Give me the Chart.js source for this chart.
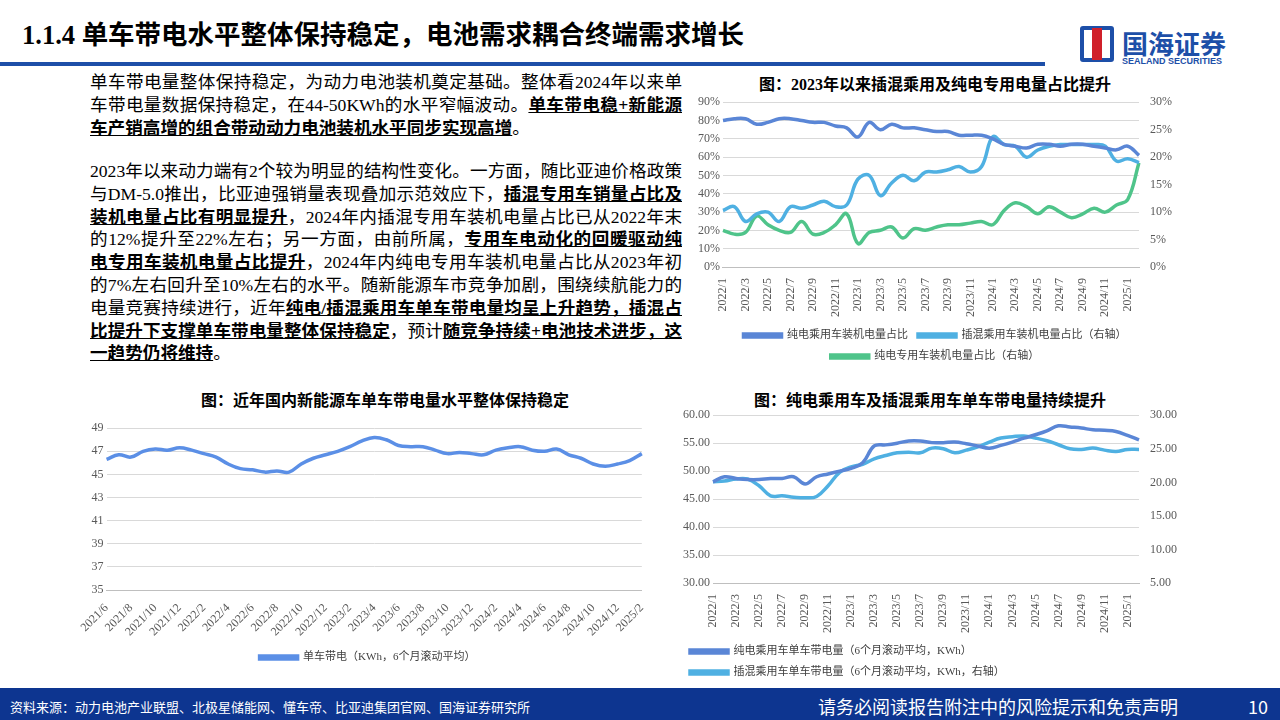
<!DOCTYPE html>
<html><head><meta charset="utf-8">
<script src="https://cdn.jsdelivr.net/npm/chart.js@4"></script>
<style>
body{margin:0;width:1280px;height:720px;position:relative;background:#fff;overflow:hidden;font-family:"Liberation Serif","Noto Sans CJK SC",serif;color:#000}
.abs{position:absolute}
#title{left:22px;top:13px;font-size:26.5px;font-weight:bold;font-family:"Liberation Serif","Noto Sans CJK SC";white-space:nowrap}
#bar{left:0;top:62px;width:1045px;height:4px;background:#1d4fa8}
#logo{left:1080px;top:24px;color:#1d4fa8}
.txt{left:90px;width:592px;font-size:17.6px;line-height:22.8px;text-align:justify}
.txt b{text-decoration:underline}
.ct{font-size:16px;font-weight:bold;text-align:center}
#foot{left:0;top:688px;width:1280px;height:32px;background:#0d3590;color:#fff}
</style></head><body>
<div id="title" class="abs">1.1.4 单车带电水平整体保持稳定，电池需求耦合终端需求增长</div>
<div id="bar" class="abs"></div>
<div id="logo" class="abs">
 <div style="position:absolute;left:0;top:2px;width:34px;height:36px;border:4px solid #1d4fa8;border-radius:3px;box-sizing:border-box"></div>
 <div style="position:absolute;left:12px;top:4px;width:10px;height:32px;background:#d0202a"></div>
 <div style="position:absolute;left:42px;top:0;font-size:26px;font-weight:bold;font-family:'Noto Sans CJK SC';white-space:nowrap">国海证券</div>
 <div style="position:absolute;left:42px;top:32px;font-size:9px;font-weight:bold;font-family:'Liberation Sans';white-space:nowrap">SEALAND SECURITIES</div>
</div>
<div class="abs txt" style="top:71px">单车带电量整体保持稳定，为动力电池装机奠定基础。整体看2024年以来单车带电量数据保持稳定，在44-50KWh的水平窄幅波动。<b>单车带电稳+新能源车产销高增的组合带动动力电池装机水平同步实现高增</b>。</div>
<div class="abs txt" style="top:160px">2023年以来动力端有2个较为明显的结构性变化。一方面，随比亚迪价格政策与DM-5.0推出，比亚迪强销量表现叠加示范效应下，<b>插混专用车销量占比及装机电量占比有明显提升</b>，2024年内插混专用车装机电量占比已从2022年末的12%提升至22%左右；另一方面，由前所属，<b>专用车电动化的回暖驱动纯电专用车装机电量占比提升</b>，2024年内纯电专用车装机电量占比从2023年初的7%左右回升至10%左右的水平。随新能源车市竞争加剧，围绕续航能力的电量竞赛持续进行，近年<b>纯电/插混乘用车单车带电量均呈上升趋势，插混占比提升下支撑单车带电量整体保持稳定</b>，预计<b>随竞争持续+电池技术进步，这一趋势仍将维持</b>。</div>
<div class="abs ct" style="left:700px;top:71px;width:470px">图：2023年以来插混乘用及纯电专用电量占比提升</div>
<div class="abs ct" style="left:90px;top:387px;width:590px">图：近年国内新能源车单车带电量水平整体保持稳定</div>
<div class="abs ct" style="left:680px;top:387px;width:500px">图：纯电乘用车及插混乘用车单车带电量持续提升</div>
<div class="abs" style="left:695px;top:92px;width:480px;height:280px"><canvas id="c1"></canvas></div>
<div class="abs" style="left:80px;top:418px;width:575px;height:255px"><canvas id="c2"></canvas></div>
<div class="abs" style="left:680px;top:405px;width:500px;height:283px"><canvas id="c3"></canvas></div>
<div id="foot" class="abs">
 <div class="abs" style="left:10px;top:9px;font-size:13px">资料来源：动力电池产业联盟、北极星储能网、懂车帝、比亚迪集团官网、国海证券研究所</div>
 <div class="abs" style="left:818px;top:5px;font-size:18px;font-family:'Noto Sans CJK SC'">请务必阅读报告附注中的风险提示和免责声明</div>
 <div class="abs" style="left:1248px;top:5px;font-size:18px;font-family:'Noto Sans CJK SC'">10</div>
</div>
<script>
function months(y, m, n) {
  const out = [];
  for (let i = 0; i < n; i++) { out.push(`${y}/${m}`); m++; if (m > 12) { m = 1; y++; } }
  return out;
}
const MONTHS_22 = months(2022, 1, 38);
const MONTHS_21 = months(2021, 6, 45);

const bevShare  = [80,81,81,78,79,81,81,80,79,79,77,76, 71,79,75,78,76,76,75,74,74,72,72,72, 70,67,66,65,67,67,66,67,67,66,65,64, 66,61];
const phevShare = [10.3,11,8.3,9.7,10,8.3,11,10.7,11.3,12,11,11.3, 16,16.7,13,15.3,16.7,15.7,17.3,17.3,17.7,18.3,17.3,18.3, 23.7,22.3,22,20,21.3,22,22.3,22.3,22.3,22.3,22,19.3, 19.7,19];
const bevSpecShare = [6.7,6,6.3,9.3,7.7,6.7,6.3,8.3,6,6.3,7.7,9.7, 4.3,6.3,6.7,7.3,5.3,7,6.7,7.3,7.7,7.7,8,8.3, 7.7,10.3,11.7,11,9.7,11,10,9,9.7,10.7,10,11.3, 12.3,19];

const packAvg = [46.3,46.7,46.5,47.0,47.2,47.1,47.3, 47.1,46.8,46.5,45.9,45.5,45.4,45.2,45.3,45.2,45.9,46.4,46.7,
  47.0,47.4,47.9,48.2,48.0,47.5,47.4,47.4,47.1,46.8,46.9,46.8, 46.7,47.1,47.3,47.4,47.1,47.0,47.2,46.7,46.4,45.9,45.7,45.9, 46.2,46.8];

const bevPack  = [48.1,49.0,48.7,48.5,48.5,48.7,48.7,49.0,47.7,49.0,49.5,50.0, 50.5,51.5,54.5,54.7,55.0,55.4,55.4,55.1,55.1,55.2,54.9,54.5, 54.1,54.6,55.2,55.9,56.5,57.2,58.1,57.9,57.7,57.4,57.3,57.1, 56.4,55.6];
const phevPack = [20.1,20.2,20.5,20.5,19.5,18.0,18.0,17.8,17.7,17.9,19.5,21.5, 22.3,22.7,23.5,24.0,24.4,24.5,24.4,25.1,25.0,24.4,24.8,25.3, 26.0,26.6,26.8,26.9,26.6,26.2,25.6,25.0,24.9,25.1,24.8,24.6, 24.9,24.9];

const DARK = '#5a86d6', LIGHT = '#4fb0e2', GREEN = '#4fc48a';
const TICK = { color: '#595959', font: { family: 'Liberation Serif', size: 12 } };
const GRID = { color: '#d9d9d9', drawTicks: false };

function ds(label, data, color, axis) {
  return { label, data, borderColor: color, backgroundColor: color, borderWidth: 3.5,
    pointRadius: 0, tension: 0.4, yAxisID: axis || 'y' };
}
function xAxis(rot) {
  return { grid: { display: false }, border: { color: '#bfbfbf' },
    ticks: { ...TICK, autoSkip: false, maxRotation: rot, minRotation: rot,
      callback(v, i) { return i % 2 === 0 ? this.getLabelForValue(v) : ''; } } };
}
const legend = { position: 'bottom', labels: { boxWidth: 38, boxHeight: 3, color: '#404040',
  font: { family: 'Liberation Serif, Noto Sans CJK SC', size: 11 } } };
const base = { responsive: true, maintainAspectRatio: false, animation: false };

new Chart(document.getElementById('c1'), {
  type: 'line',
  data: { labels: MONTHS_22, datasets: [
    ds('纯电乘用车装机电量占比', bevShare, DARK),
    ds('插混乘用车装机电量占比（右轴）', phevShare, LIGHT, 'y1'),
    ds('纯电专用车装机电量占比（右轴）', bevSpecShare, GREEN, 'y1')
  ] },
  options: { ...base, plugins: { legend },
    scales: {
      x: xAxis(90),
      y: { min: 0, max: 90, ticks: { ...TICK, stepSize: 10, callback: v => v + '%' }, grid: GRID, border: { display: false } },
      y1: { position: 'right', min: 0, max: 30, ticks: { ...TICK, stepSize: 5, callback: v => v + '%' }, grid: { display: false }, border: { display: false } }
    } }
});

new Chart(document.getElementById('c2'), {
  type: 'line',
  data: { labels: MONTHS_21, datasets: [ds('单车带电（KWh，6个月滚动平均）', packAvg, '#5b8fe6')] },
  options: { ...base, plugins: { legend },
    scales: {
      x: xAxis(45),
      y: { min: 35, max: 49, ticks: { ...TICK, stepSize: 2 }, grid: GRID, border: { display: false } }
    } }
});

new Chart(document.getElementById('c3'), {
  type: 'line',
  data: { labels: MONTHS_22, datasets: [
    ds('纯电乘用车单车带电量（6个月滚动平均，KWh）', bevPack, DARK),
    ds('插混乘用车单车带电量（6个月滚动平均，KWh，右轴）', phevPack, LIGHT, 'y1')
  ] },
  options: { ...base, plugins: { legend: { ...legend, align: 'start' } },
    scales: {
      x: xAxis(90),
      y: { min: 30, max: 60, ticks: { ...TICK, stepSize: 5, callback: v => v.toFixed(2) }, grid: GRID, border: { display: false } },
      y1: { position: 'right', min: 5, max: 30, ticks: { ...TICK, stepSize: 5, callback: v => v.toFixed(2) }, grid: { display: false }, border: { display: false } }
    } }
});
</script>
</body></html>
